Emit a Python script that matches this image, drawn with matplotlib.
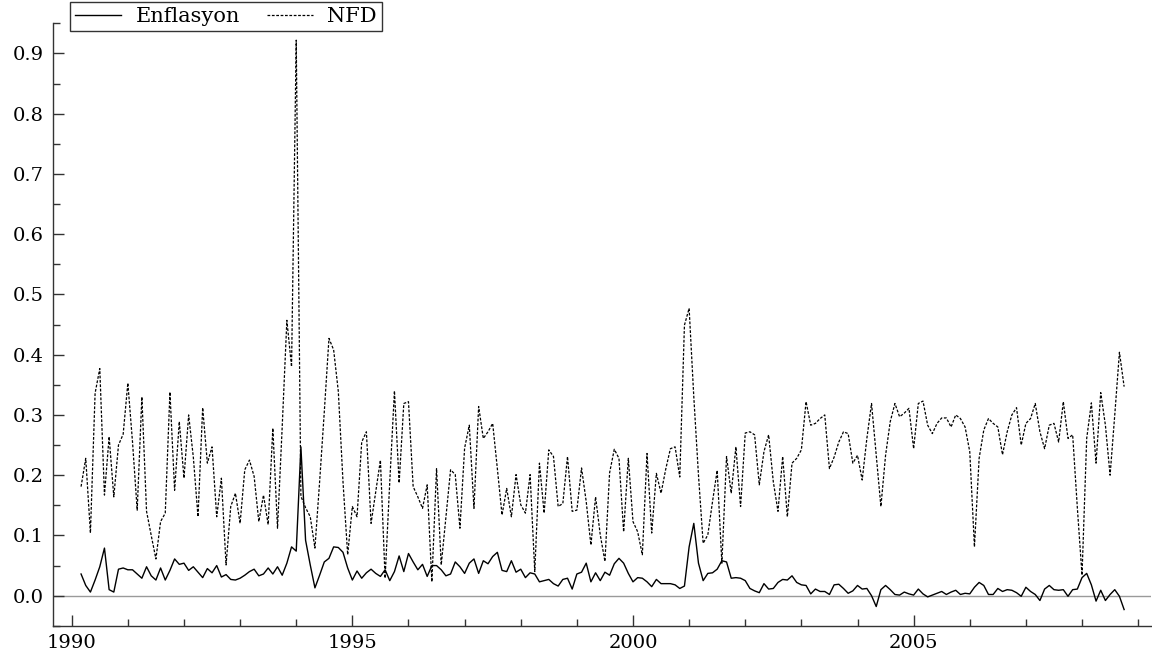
import numpy as np
import matplotlib
matplotlib.use("Agg")
import matplotlib.pyplot as plt
from matplotlib.ticker import MultipleLocator, FormatStrFormatter

start_year = 1990
start_month = 3  # first observation: 1990(3)

nfd = [
    0.181, 0.228, 0.104, 0.336, 0.377, 0.167, 0.264, 0.164, 0.250, 0.268,
    0.353, 0.255, 0.142, 0.330, 0.140, 0.100, 0.061, 0.123, 0.137, 0.338,
    0.175, 0.289, 0.195, 0.300, 0.230, 0.131, 0.312, 0.220, 0.247, 0.131,
    0.195, 0.051, 0.148, 0.170, 0.120, 0.209, 0.225, 0.198, 0.123, 0.167,
    0.118, 0.278, 0.112, 0.280, 0.457, 0.380, 0.922, 0.165, 0.146, 0.131,
    0.079, 0.189, 0.305, 0.427, 0.408, 0.339, 0.189, 0.068, 0.148, 0.131,
    0.255, 0.272, 0.120, 0.173, 0.225, 0.029, 0.189, 0.340, 0.187, 0.319,
    0.322, 0.181, 0.164, 0.145, 0.184, 0.023, 0.211, 0.051, 0.130, 0.209,
    0.201, 0.112, 0.245, 0.283, 0.145, 0.314, 0.261, 0.272, 0.286, 0.211,
    0.134, 0.178, 0.131, 0.201, 0.151, 0.137, 0.201, 0.040, 0.220, 0.137,
    0.242, 0.231, 0.148, 0.153, 0.231, 0.140, 0.142, 0.212, 0.156, 0.084,
    0.164, 0.101, 0.057, 0.204, 0.243, 0.228, 0.106, 0.228, 0.123, 0.106,
    0.068, 0.236, 0.104, 0.203, 0.170, 0.210, 0.244, 0.247, 0.197, 0.449,
    0.477, 0.330, 0.200, 0.087, 0.101, 0.156, 0.208, 0.054, 0.231, 0.170,
    0.247, 0.148, 0.270, 0.272, 0.267, 0.184, 0.239, 0.267, 0.189, 0.140,
    0.231, 0.131, 0.220, 0.228, 0.242, 0.322, 0.283, 0.286, 0.294, 0.300,
    0.211, 0.230, 0.255, 0.272, 0.269, 0.220, 0.233, 0.192, 0.261, 0.319,
    0.233, 0.148, 0.233, 0.289, 0.319, 0.297, 0.303, 0.311, 0.244, 0.319,
    0.323, 0.283, 0.269, 0.286, 0.295, 0.295, 0.280, 0.300, 0.294, 0.280,
    0.239, 0.081, 0.228, 0.275, 0.294, 0.286, 0.280, 0.234, 0.272, 0.300,
    0.312, 0.250, 0.286, 0.294, 0.319, 0.272, 0.244, 0.283, 0.286, 0.255,
    0.322, 0.261, 0.267, 0.146, 0.034, 0.261, 0.320, 0.220, 0.337, 0.283,
    0.200, 0.300, 0.404, 0.347,
]

enflasyon = [
    0.036, 0.017, 0.006, 0.026, 0.048, 0.079, 0.010, 0.006, 0.044, 0.046,
    0.043, 0.043, 0.036, 0.029, 0.048, 0.033, 0.026, 0.046, 0.026, 0.042,
    0.061, 0.052, 0.054, 0.042, 0.048, 0.039, 0.030, 0.045, 0.038, 0.050,
    0.031, 0.035, 0.027, 0.026, 0.029, 0.034, 0.040, 0.044, 0.033, 0.036,
    0.046, 0.036, 0.048, 0.034, 0.054, 0.081, 0.074, 0.247, 0.092, 0.051,
    0.013, 0.034, 0.056, 0.062, 0.081, 0.080, 0.072, 0.046, 0.026, 0.041,
    0.029, 0.038, 0.044, 0.037, 0.032, 0.043, 0.025, 0.040, 0.066, 0.040,
    0.070, 0.056, 0.043, 0.052, 0.032, 0.050, 0.050, 0.043, 0.033, 0.036,
    0.056, 0.048, 0.037, 0.054, 0.061, 0.037, 0.058, 0.053, 0.065, 0.072,
    0.042, 0.040, 0.058, 0.039, 0.044, 0.030, 0.038, 0.036, 0.023, 0.025,
    0.027, 0.020, 0.016, 0.027, 0.029, 0.011, 0.036, 0.039, 0.054, 0.023,
    0.038, 0.025, 0.039, 0.034, 0.053, 0.062, 0.054, 0.037, 0.023, 0.030,
    0.029, 0.023, 0.015, 0.027, 0.020, 0.020, 0.020, 0.018, 0.012, 0.016,
    0.081, 0.120, 0.054, 0.025, 0.037, 0.038, 0.044, 0.058, 0.056, 0.029,
    0.030, 0.029, 0.025, 0.012, 0.008, 0.005, 0.020, 0.011, 0.012, 0.022,
    0.027, 0.026, 0.033, 0.022, 0.018, 0.017, 0.003, 0.011, 0.007, 0.007,
    0.002, 0.018, 0.019, 0.012, 0.004, 0.008, 0.017, 0.011, 0.012, 0.000,
    -0.018, 0.010, 0.017, 0.010, 0.002, 0.001, 0.006, 0.003, 0.001, 0.011,
    0.003, -0.002, 0.001, 0.004, 0.007, 0.002, 0.006, 0.009, 0.002, 0.004,
    0.003, 0.014, 0.022, 0.017, 0.002, 0.002, 0.012, 0.007, 0.010, 0.009,
    0.005, -0.001, 0.014, 0.007, 0.002, -0.008, 0.011, 0.017, 0.010, 0.009,
    0.010, -0.001, 0.010, 0.011, 0.030, 0.037, 0.018, -0.009, 0.009, -0.008,
    0.002, 0.010, -0.001, -0.023,
]

series_labels = ["Enflasyon", "NFD"]
x_major_ticks = [1990, 1995, 2000, 2005]

t = start_year + (start_month - 1 + np.arange(len(nfd))) / 12.0

plt.rcParams['font.family'] = ['DejaVu Serif']

fig = plt.figure(figsize=(11.52, 6.58), dpi=100)
ax = fig.add_axes([53.3 / 1152, 32 / 658, (1151 - 53.3) / 1152, (626 - 22.7) / 658])

ax.axhline(0, color='#9a9a9a', lw=1.0, zorder=1)
ax.plot(t, enflasyon, color='black', lw=1.0, label=series_labels[0], zorder=3)
ax.plot(t, nfd, color='black', lw=0.9, linestyle=(0, (2.2, 1.3)), label=series_labels[1], zorder=2)

ax.set_xlim(1989.672, 2009.229)
ax.set_ylim(-0.0503, 0.951)

ax.set_xticks(x_major_ticks)
ax.xaxis.set_minor_locator(MultipleLocator(1))
ax.xaxis.set_major_formatter(FormatStrFormatter('%d'))
ax.yaxis.set_major_locator(MultipleLocator(0.1))
ax.yaxis.set_minor_locator(MultipleLocator(0.05))
ax.yaxis.set_major_formatter(FormatStrFormatter('%.1f'))

for s in ['top', 'right']:
    ax.spines[s].set_visible(False)
for s in ['left', 'bottom']:
    ax.spines[s].set_color('#333333')
    ax.spines[s].set_linewidth(1.0)

ax.tick_params(axis='both', which='major', direction='in', length=8, width=1.0,
               color='#333333', labelsize=14)
ax.tick_params(axis='both', which='minor', direction='in', length=5, width=1.0,
               color='#333333')
ax.tick_params(axis='y', which='major', pad=7)
ax.tick_params(axis='x', which='major', pad=6)

leg = fig.legend(loc='upper left', bbox_to_anchor=(70 / 1152, 1 - 1.7 / 658),
                 bbox_transform=fig.transFigure, ncol=2, frameon=True,
                 fancybox=False, fontsize=15, handlelength=2.2,
                 handletextpad=0.7, columnspacing=1.3, borderpad=0.25,
                 borderaxespad=0)
leg.get_frame().set_edgecolor('black')
leg.get_frame().set_linewidth(1.0)

fig.savefig('out.png', dpi=100)
